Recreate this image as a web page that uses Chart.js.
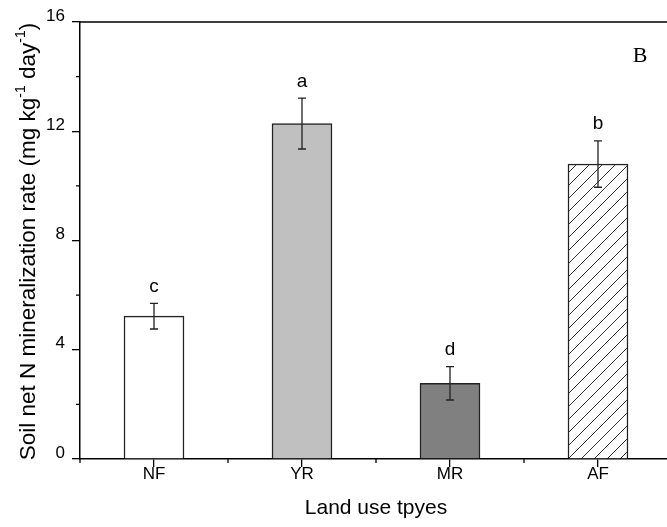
<!DOCTYPE html>
<html>
<head>
<meta charset="utf-8">
<script src="https://cdn.jsdelivr.net/npm/chart.js@4"></script>
<style>
  html, body { margin: 0; padding: 0; background: #fff; overflow: hidden; }
  canvas { display: block; }
</style>
</head>
<body>
<canvas id="chart" width="680" height="527"></canvas>
<script>
// Net N mineralization rate by land use type (mean ± SE, letters = significance groups)
const categories = ['NF', 'YR', 'MR', 'AF'];
const meanRates = [5.23, 12.28, 2.77, 10.80];
const stdErrors = [0.47, 0.93, 0.61, 0.85];
const groupLetters = ['c', 'a', 'd', 'b'];
const yTickValues = [0, 4, 8, 12, 16];
const yMinorValues = [2, 6, 10, 14];
const panelTag = 'B';

const SANS = '"Liberation Sans", Arial, Helvetica, sans-serif';
const SERIF = '"Liberation Serif", "Times New Roman", serif';

// diagonal hatch fill for the last bar
function makeHatch() {
  const s = 13;
  const c = document.createElement('canvas');
  c.width = s; c.height = s;
  const g = c.getContext('2d');
  g.fillStyle = '#ffffff';
  g.fillRect(0, 0, s, s);
  g.strokeStyle = '#333333';
  g.lineWidth = 1;
  g.beginPath();
  g.moveTo(-1, s + 1); g.lineTo(s + 1, -1);
  g.moveTo(-s / 2 - 1, s / 2 + 1); g.lineTo(s / 2 + 1, -s / 2 - 1);
  g.moveTo(s / 2 - 1, s * 1.5 + 1); g.lineTo(s * 1.5 + 1, s / 2 - 1);
  g.stroke();
  return g.createPattern(c, 'repeat');
}

const ctx0 = document.getElementById('chart').getContext('2d');
const hatch = makeHatch();

const decorations = {
  id: 'decorations',
  afterDatasetsDraw(chart) {
    const { ctx, scales: { x, y }, chartArea: a } = chart;
    ctx.save();

    // error bars
    ctx.strokeStyle = '#222';
    ctx.lineWidth = 1.3;
    meanRates.forEach((v, i) => {
      const cx = x.getPixelForValue(i);
      const top = y.getPixelForValue(v + stdErrors[i]);
      const bot = y.getPixelForValue(v - stdErrors[i]);
      ctx.beginPath();
      ctx.moveTo(cx, top); ctx.lineTo(cx, bot);
      ctx.moveTo(cx - 4, top); ctx.lineTo(cx + 4, top);
      ctx.moveTo(cx - 4, bot); ctx.lineTo(cx + 4, bot);
      ctx.stroke();
    });

    // significance letters
    ctx.fillStyle = '#000';
    ctx.font = '19px ' + SANS;
    ctx.textAlign = 'center';
    ctx.textBaseline = 'alphabetic';
    groupLetters.forEach((t, i) => {
      const cx = x.getPixelForValue(i);
      const top = y.getPixelForValue(meanRates[i] + stdErrors[i]);
      ctx.fillText(t, cx, top - 11.5);
    });

    // frame: top and right edges
    ctx.strokeStyle = '#000';
    ctx.lineWidth = 1.5;
    ctx.beginPath();
    ctx.moveTo(a.left, a.top); ctx.lineTo(a.right, a.top); ctx.lineTo(a.right, a.bottom);
    ctx.stroke();

    // minor ticks
    ctx.lineWidth = 1.3;
    ctx.beginPath();
    yMinorValues.forEach(v => {
      const py = y.getPixelForValue(v);
      ctx.moveTo(a.left - 4, py); ctx.lineTo(a.left, py);
    });
    for (let i = -1; i < categories.length; i++) {
      const px = i < 0 ? a.left : (i === categories.length - 1 ? a.right
        : (x.getPixelForValue(i) + x.getPixelForValue(i + 1)) / 2);
      ctx.moveTo(px, a.bottom); ctx.lineTo(px, a.bottom + 4);
    }
    ctx.stroke();

    // panel tag
    ctx.font = '22px ' + SERIF;
    ctx.textAlign = 'center';
    ctx.textBaseline = 'alphabetic';
    ctx.fillText(panelTag, 640, 62);

    // x axis title
    ctx.font = '21px ' + SANS;
    ctx.fillText('Land use tpyes', (a.left + a.right) / 2, 514);

    // y axis title with superscripts
    const parts = [
      ['Soil net N mineralization rate (mg kg', false],
      ['-1', true],
      [' day', false],
      ['-1', true],
      [')', false]
    ];
    const big = '22.5px ' + SANS, small = '14px ' + SANS;
    let total = 0;
    parts.forEach(([s, sup]) => { ctx.font = sup ? small : big; total += ctx.measureText(s).width; });
    ctx.translate(35, (a.top + a.bottom) / 2 + 1);
    ctx.rotate(-Math.PI / 2);
    ctx.textAlign = 'left';
    let px = -total / 2;
    parts.forEach(([s, sup]) => {
      ctx.font = sup ? small : big;
      ctx.fillText(s, px, sup ? -10 : 0);
      px += ctx.measureText(s).width;
    });
    ctx.restore();
  }
};

new Chart(ctx0, {
  type: 'bar',
  data: {
    labels: categories,
    datasets: [{
      data: meanRates,
      backgroundColor: ['#ffffff', '#c0c0c0', '#808080', hatch],
      borderColor: '#222',
      borderWidth: 1.5,
      barThickness: 60
    }]
  },
  options: {
    responsive: false,
    animation: false,
    events: [],
    layout: { padding: { top: 22, right: 8, left: 0, bottom: 0 } },
    plugins: { legend: { display: false }, tooltip: { enabled: false } },
    scales: {
      x: {
        offset: true,
        grid: { drawOnChartArea: false, offset: false, tickLength: 8, color: '#000', lineWidth: 1.3 },
        border: { display: true, color: '#000', width: 1.5 },
        ticks: { color: '#000', font: { family: SANS, size: 17 }, padding: -3, maxRotation: 0 },
        afterFit(s) { s.height = 68; }
      },
      y: {
        min: 0, max: 16,
        afterBuildTicks(s) { s.ticks = yTickValues.map(v => ({ value: v })); },
        grid: { drawOnChartArea: false, tickLength: 8, color: '#000', lineWidth: 1.3 },
        border: { display: true, color: '#000', width: 1.5 },
        ticks: { color: '#000', font: { family: SANS, size: 17 }, padding: 7, labelOffset: -6 },
        afterFit(s) { s.width = 80; }
      }
    }
  },
  plugins: [decorations]
});
</script>
</body>
</html>
